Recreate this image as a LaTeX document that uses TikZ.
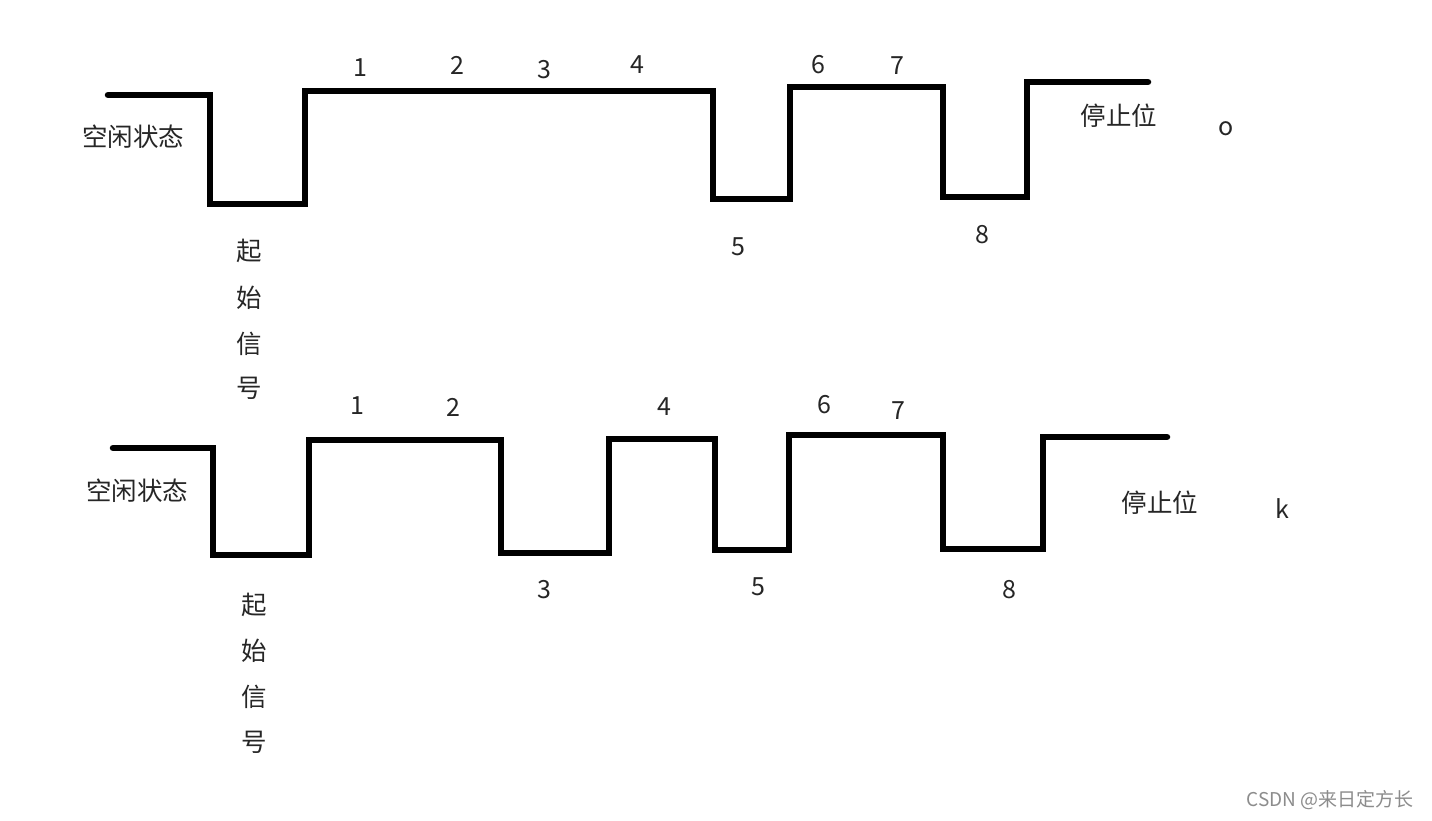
\documentclass[tikz,border=0pt]{standalone}
\usepackage{fontspec}
\setmainfont{Noto Sans CJK SC}
\begin{document}
\begin{tikzpicture}[x=1pt,y=-1pt,
  wave/.style={line width=6.5pt,line join=miter,line cap=round,black},
  lbl/.style={font=\fontsize{25.5}{27}\selectfont,text=black!85,inner sep=0pt},
  num/.style={font=\fontsize{25}{27}\selectfont,text=black!85,inner sep=0pt},
  wmark/.style={font=\fontsize{19}{21}\selectfont,text=black!45,inner sep=0pt}]
\useasboundingbox[fill=white] (0,0) rectangle (1432,820);
% top waveform
\draw[wave] (108,95) -- (210,95) -- (210,204) -- (305,204) -- (305,91) -- (713,91)
  -- (713,199) -- (790,199) -- (790,87) -- (943,87) -- (943,197) -- (1027,197)
  -- (1027,82) -- (1148,82);
% bottom waveform
\draw[wave] (113,448) -- (213,448) -- (213,555) -- (309,555) -- (309,440) -- (501,440)
  -- (501,553) -- (609,553) -- (609,439) -- (715,439) -- (715,550) -- (789,550)
  -- (789,435) -- (943,435) -- (943,549) -- (1043,549) -- (1043,437) -- (1167,437);
% top labels
\node[num] (t1) at (360,68) {1};
\node[num] (t2) at (457,65) {2};
\node[num] (t3) at (544,70) {3};
\node[num] (t4) at (637,65) {4};
\node[num] (t5) at (738,247) {5};
\node[num] (t6) at (818,65) {6};
\node[num] (t7) at (897,66) {7};
\node[num] (t8) at (982,235) {8};
\node[lbl] (tidle) at (133,137) {空闲状态};
\node[lbl] (ts1) at (249,251) {起};
\node[lbl] (ts2) at (249,298) {始};
\node[lbl] (ts3) at (249,344) {信};
\node[lbl] (ts4) at (249,388) {号};
\node[lbl] (tstop) at (1119,116) {停止位};
\node[num] (to) at (1226,129) {o};
% bottom labels
\node[num] (b1) at (357,406) {1};
\node[num] (b2) at (453,407) {2};
\node[num] (b3) at (544,590) {3};
\node[num] (b4) at (664,407) {4};
\node[num] (b5) at (758,587) {5};
\node[num] (b6) at (824,405) {6};
\node[num] (b7) at (898,411) {7};
\node[num] (b8) at (1009,590) {8};
\node[lbl] (bidle) at (137,491) {空闲状态};
\node[lbl] (bs1) at (254,605) {起};
\node[lbl] (bs2) at (254,651) {始};
\node[lbl] (bs3) at (254,697) {信};
\node[lbl] (bs4) at (254,742) {号};
\node[lbl] (bstop) at (1160,503) {停止位};
\node[num] (bk) at (1282,509) {k};
\node[wmark] (wm) at (1330,800) {CSDN @来日定方长};
\end{tikzpicture}
\end{document}
